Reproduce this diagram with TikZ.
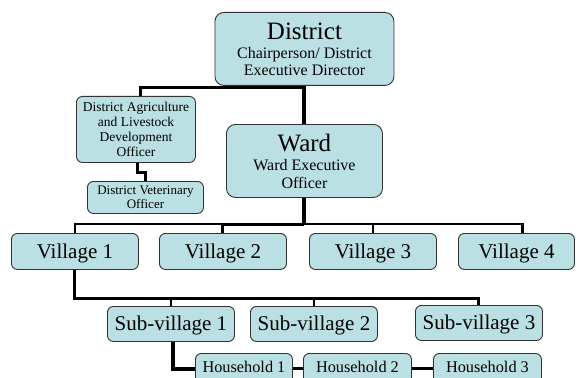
\documentclass[tikz,border=0pt]{standalone}
\usepackage{fontspec}
\setmainfont{Liberation Serif}
\definecolor{boxfill}{RGB}{186,224,227}
\definecolor{boxline}{RGB}{50,50,50}
\tikzset{
  orgbox/.style={draw=boxline, line width=0.9pt, fill=boxfill, rounded corners=6pt,
    anchor=north west, inner sep=0pt, align=center},
  bigbox/.style={orgbox, rounded corners=9pt},
  linkthick/.style={line width=4pt},
  linkmid/.style={line width=3pt},
  linkthin/.style={line width=2.3pt},
}
\begin{document}
\begin{tikzpicture}[x=1pt,y=-1pt]
\useasboundingbox (0,0) rectangle (580,377);
\fill[white] (0,0) rectangle (580,377);
% boxes
\node[bigbox, minimum width=179pt, minimum height=73pt, font=\fontsize{16}{17}\selectfont] (dist) at (214.5,12)
  {{\fontsize{25}{25}\selectfont District}\\[2pt]
   Chairperson/ District\\ Executive Director};
\node[orgbox, minimum width=119pt, minimum height=66pt, font=\fontsize{13.5}{15}\selectfont] (daldo) at (76,96)
  {District Agriculture\\ and Livestock\\ Development\\ Officer};
\node[orgbox, minimum width=116pt, minimum height=32pt, font=\fontsize{13}{13.5}\selectfont] (dvo) at (87,181)
  {District Veterinary\\ Officer};
\node[bigbox, minimum width=156pt, minimum height=73pt, font=\fontsize{16}{18}\selectfont] (ward) at (226,124)
  {{\fontsize{25}{25}\selectfont Ward}\\[1pt]
   Ward Executive\\ Officer};
\tikzset{vil/.style={orgbox, minimum width=127pt, text height=25pt, text depth=11pt, font=\fontsize{21}{21}\selectfont}}
\node[vil] (v1) at (11,233) {Village 1};
\node[vil] (v2) at (159,233) {Village 2};
\node[vil] (v3) at (309,233) {Village 3};
\node[vil, minimum width=116pt] (v4) at (458,233) {Village 4};
\tikzset{sub/.style={orgbox, minimum width=127pt, text height=24.5pt, text depth=10.5pt, font=\fontsize{21}{21}\selectfont}}
\node[sub] (sv1) at (107,306) {Sub-village 1};
\node[sub] (sv2) at (250,306) {Sub-village 2};
\node[sub] (sv3) at (415,305) {Sub-village 3};
\tikzset{hh/.style={orgbox, text height=19.5pt, text depth=11.5pt, font=\fontsize{16.3}{16.3}\selectfont}}
\node[hh, minimum width=97pt] (h1) at (195,353) {Household 1};
\node[hh, minimum width=108pt] (h2) at (303,353) {Household 2};
\node[hh, minimum width=108pt] (h3) at (433,353) {Household 3};
% coordinates
\coordinate (jd) at (304,88);
\coordinate (vb) at (304,224);
\coordinate (sb) at (74,298);
% connectors
\draw[linkthick] (dist.south) -- (dist.south |- ward.north);
\draw[linkmid] (jd) -| ([xshift=4.5pt]daldo.north);
\draw[linkmid] ([xshift=1.5pt]daldo.south) -- ++(0,10) -| (dvo.north);
\draw[linkthick] (ward.south) -- (ward.south |- vb);
\draw[linkthin] (v1.north) |- (vb) -| ([xshift=6pt]v4.north);
\draw[linkmid] (vb) -| (v2.north);
\draw[linkthin] (vb -| v3.north) -- (v3.north);
\draw[linkmid] (v1.south) |- (sb -| sv3.north) -- (sv3.north);
\draw[linkthin] (sb -| sv1.north) -- (sv1.north);
\draw[linkthin] (sb -| sv2.north) -- (sv2.north);
\draw[linkthick] ([xshift=2.5pt]sv1.south) |- (h1.west);
\draw[linkmid] (h1.east) -- (h2.west);
\draw[linkmid] (h2.east) -- (h3.west);
\end{tikzpicture}
\end{document}
